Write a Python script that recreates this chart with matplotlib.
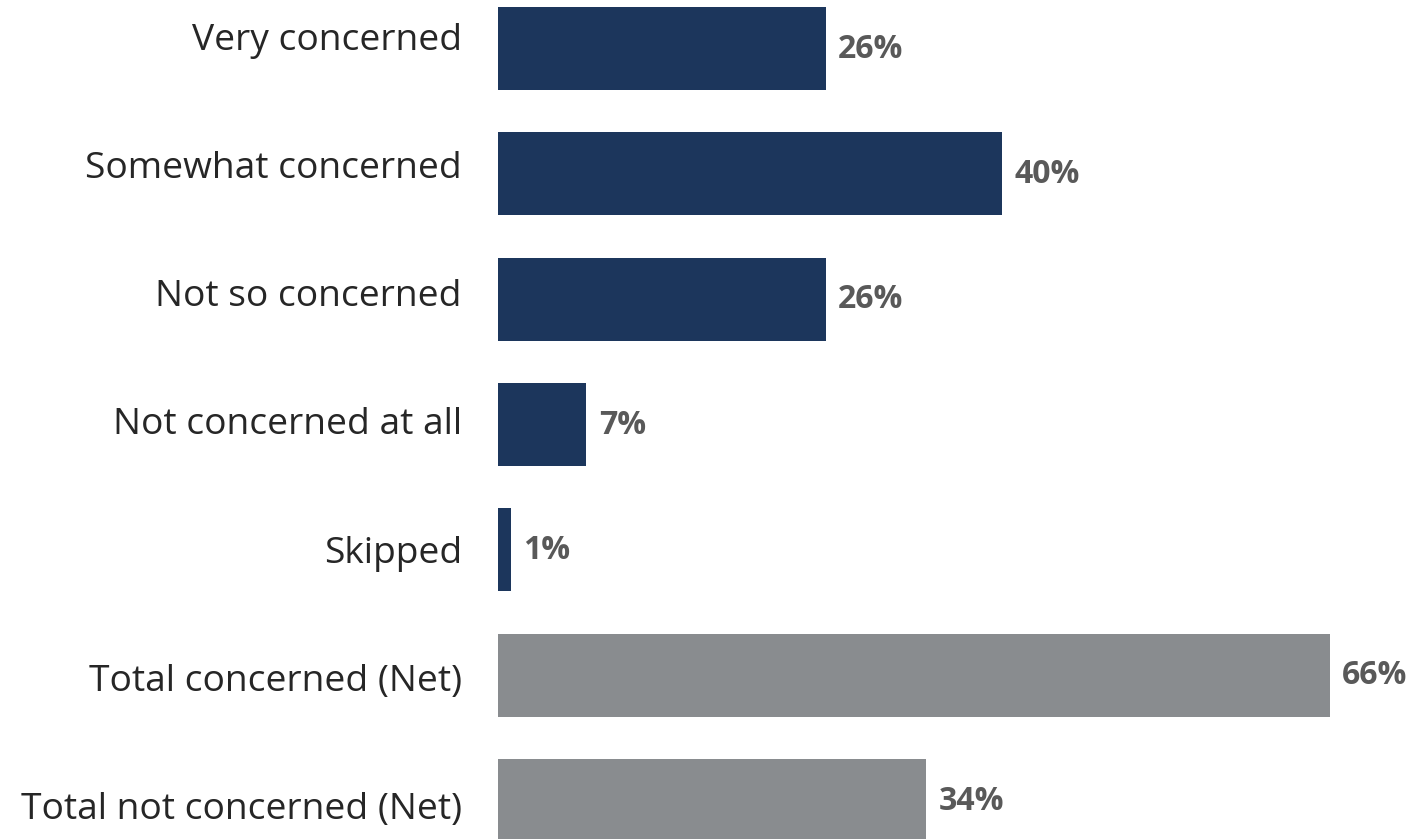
import matplotlib
matplotlib.use("Agg")
import matplotlib.pyplot as plt

categories = ["Very concerned", "Somewhat concerned", "Not so concerned",
              "Not concerned at all", "Skipped", "Total concerned (Net)",
              "Total not concerned (Net)"]
values = [26, 40, 26, 7, 1, 66, 34]
value_labels = ["26%", "40%", "26%", "7%", "1%", "66%", "34%"]
navy = "#1C365C"
grey = "#898C8F"
colors = [navy, navy, navy, navy, navy, grey, grey]

plt.rcParams['font.family'] = ['Open Sans', 'DejaVu Sans']

fig = plt.figure(figsize=(14.1, 8.39), dpi=100)
ax = fig.add_axes([498 / 1410, 0, 1 - 498 / 1410, 1])

pos = list(range(len(categories)))
ax.barh(pos, values, height=0.66, color=colors)
ax.set_xlim(0, 912 / 12.6)
ax.set_ylim(6 + 38.5 / 125.33, -48.5 / 125.33)

# category labels sit on a slightly wider pitch than the bars
label_pos = [-0.0997 + 1.0233 * i for i in pos]
ax.set_yticks(label_pos)
ax.set_yticklabels(categories, fontsize=26.7, color="#262626")
ax.tick_params(axis='y', length=0, pad=26)
ax.set_xticks([])
for s in ax.spines.values():
    s.set_visible(False)

for p, v, t in zip(pos, values, value_labels):
    ax.annotate(t, xy=(v, p), xytext=(9, -0.5), textcoords="offset points",
                ha="left", va="center", fontsize=23, fontweight="bold",
                color="#595959")

fig.savefig("out.png", dpi=100)
